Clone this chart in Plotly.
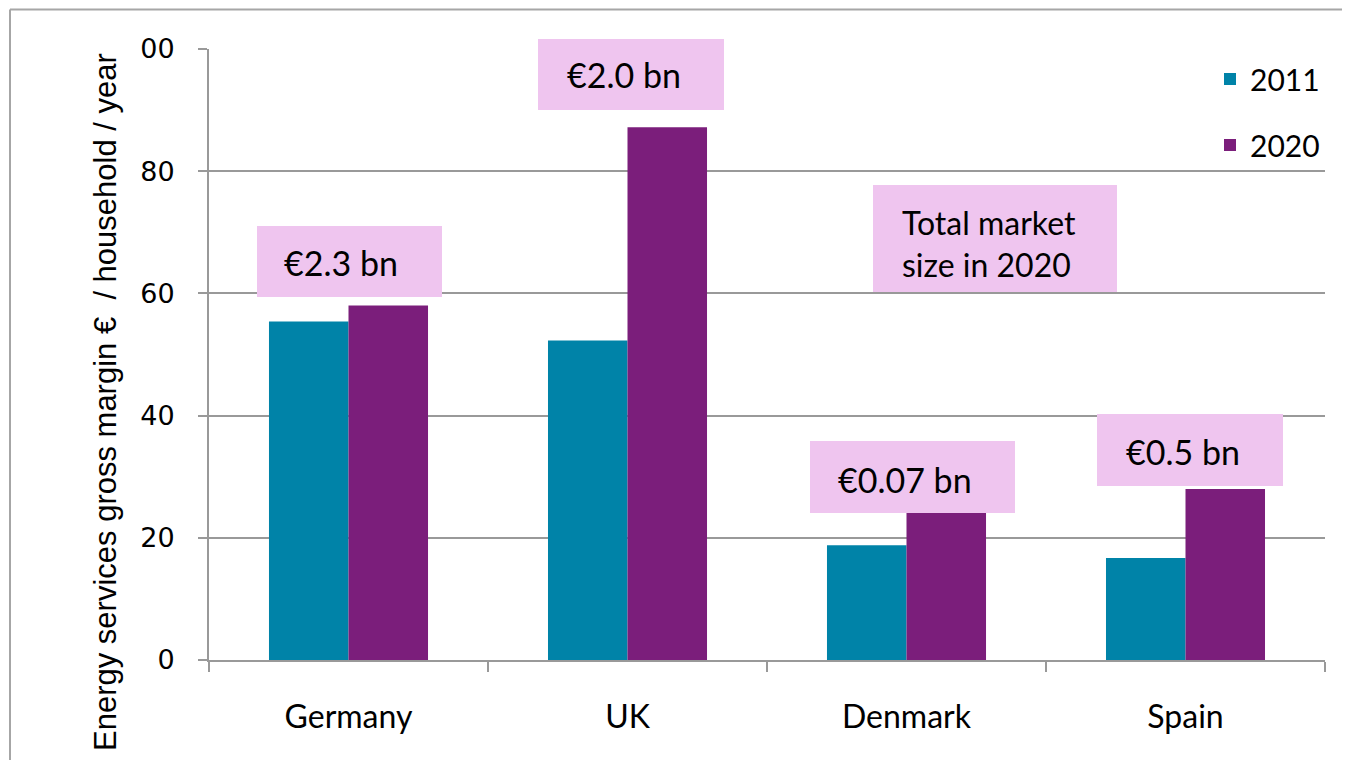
import plotly.graph_objects as go

categories = ["Germany", "UK", "Denmark", "Spain"]
values_2011 = [55.4, 52.3, 18.8, 16.7]
values_2020 = [58.0, 87.2, 24.5, 28.0]
ytick_vals = [0, 20, 40, 60, 80, 100]
ytick_text = ["0", "20", "40", "60", "80", "00"]
box_labels = ["€2.3 bn", "€2.0 bn", "€0.07 bn", "€0.5 bn"]
note_text = "Total market<br>size in 2020"
y_title = "Energy services gross margin €  / household / year"

TEAL = "#0083A8"
PURPLE = "#7B1E7B"
PINK = "#EFC5EF"
GRID = "#999999"

# plot area in viewport pixels (page has an 8px body margin on every side)
OFF = 8
L, R, T, B = 209, 1325, 49, 660
W, H = R - L, B - T
FIG_W, FIG_H = 1350 - 2 * OFF, 768 - 2 * OFF


def px(x):
    return (x - L) / W


def py(y):
    return (B - y) / H


fig = go.Figure()
fig.add_trace(go.Bar(x=categories, y=values_2011, name="2011",
                     marker=dict(color=TEAL, line=dict(width=0)),
                     legendgroup="a"))
fig.add_trace(go.Bar(x=categories, y=values_2020, name="2020",
                     marker=dict(color=PURPLE, line=dict(width=0)),
                     legendgroup="b"))

# label boxes (pixel geometry)
boxes = [
    (257, 442, 226, 297, 282, 263),
    (538, 724, 39, 110, 565, 75),
    (810, 1015, 441, 513, 836, 480),
    (1097, 1283, 414, 486, 1124, 452),
]
shapes = []
annotations = []
for (x0, x1, y0, y1, tx, ty), txt in zip(boxes, box_labels):
    shapes.append(dict(type="rect", xref="paper", yref="paper",
                       x0=px(x0), x1=px(x1), y0=py(y1), y1=py(y0),
                       fillcolor=PINK, line=dict(width=0), layer="above"))
    annotations.append(dict(xref="paper", yref="paper", x=px(tx), y=py(ty),
                            xanchor="left", yanchor="middle", showarrow=False,
                            text=txt, font=dict(family="Lato", size=34, color="#000")))

shapes.append(dict(type="rect", xref="paper", yref="paper",
                   x0=px(873), x1=px(1117), y0=py(292), y1=py(185),
                   fillcolor=PINK, line=dict(width=0), layer="above"))
annotations.append(dict(xref="paper", yref="paper", x=px(900), y=py(243),
                        xanchor="left", yanchor="middle", showarrow=False, align="left",
                        text=note_text, font=dict(family="Lato", size=32, color="#000")))

# y-axis title (placed like the reference, below the axis centre)
annotations.append(dict(xref="paper", yref="paper", x=px(105), y=py(402),
                        xanchor="center", yanchor="middle", showarrow=False,
                        textangle=-90, text=y_title,
                        font=dict(family="Liberation Sans", size=31, color="#000")))

# outer frame: only the left and top edges are visible
FRAME = dict(color="#A6A6A6", width=2)
shapes.append(dict(type="line", xref="paper", yref="paper",
                   x0=px(10), x1=px(10), y0=py(9.5), y1=py(780), line=FRAME, layer="below"))
shapes.append(dict(type="line", xref="paper", yref="paper",
                   x0=px(10), x1=px(1360), y0=py(9.5), y1=py(9.5), line=FRAME, layer="below"))

fig.update_layout(
    width=FIG_W, height=FIG_H,
    margin=dict(l=L - OFF, r=FIG_W + OFF - R, t=T - OFF, b=FIG_H + OFF - B),
    paper_bgcolor="white", plot_bgcolor="white",
    barmode="group", bargap=0.43, bargroupgap=0,
    shapes=shapes, annotations=annotations,
    legend=dict(x=px(1210), y=py(53), xanchor="left", yanchor="top",
                font=dict(family="Lato", size=30, color="#000"),
                tracegroupgap=24, bgcolor="rgba(0,0,0,0)"),
    xaxis=dict(
        type="category", showline=True, linecolor=GRID, linewidth=2,
        ticks="outside", tickson="boundaries", ticklen=10, tickcolor=GRID, tickwidth=2,
        tickfont=dict(family="Lato", size=32, color="#000"),
        ticklabelstandoff=28, showgrid=False,
    ),
    yaxis=dict(
        range=[0, 100], tickvals=ytick_vals, ticktext=ytick_text,
        showline=True, linecolor=GRID, linewidth=2,
        ticks="outside", ticklen=9, tickcolor=GRID, tickwidth=2,
        showgrid=True, gridcolor=GRID, gridwidth=2, zeroline=False,
        tickfont=dict(family="DejaVu Sans", size=27, color="#000"),
        ticklabelstandoff=18,
    ),
)

fig.write_html("out.html")
